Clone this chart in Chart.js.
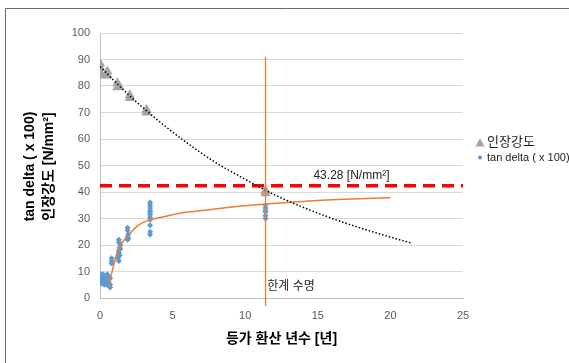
<!DOCTYPE html>
<html>
<head>
  <meta charset="utf-8">
  <title>인장강도 / tan delta</title>
  <script src="https://cdn.jsdelivr.net/npm/chart.js"></script>
  <style>
    body { margin: 0; background: #fff; }
    #chartContainer { width: 569px; height: 363px; }
  </style>
</head>
<body>
  <div id="chartContainer">
    <canvas id="myChart" width="569" height="363"></canvas>
  </div>

  <script>
    // 인장강도 측정값 [N/mm2]
    const strengthX = [0, 0, 0, 0.05, 0.5, 0.5, 1.2, 1.2, 1.3, 2.05, 2.05, 3.2, 3.2, 11.4, 11.4];
    const strengthY = [88.5, 87, 85, 84, 85.5, 84, 81, 79.5, 80, 76.5, 75.5, 71, 70, 40.5, 39.5];

    // tan delta ( x 100) 측정값
    const tanX = [0, 0, 0, 0, 0, 0, 0.1, 0.1, 0.1, 0.2, 0.2, 0.2, 0.3, 0.3, 0.3, 0.4, 0.4, 0.5, 0.5, 0.5,
                  0.6, 0.6, 0.6, 0.7, 0.7, 0.7,
                  0.8, 0.8, 0.8,
                  1.3, 1.3, 1.35, 1.3, 1.3, 1.35, 1.25, 1.3, 1.4, 1.4,
                  1.9, 1.9, 1.95, 1.9, 1.95, 1.9,
                  3.45, 3.45, 3.45, 3.45, 3.45, 3.45, 3.45, 3.45, 3.45, 3.45, 3.45,
                  11.4, 11.4, 11.4, 11.4, 11.4, 11.4];
    const tanY = [9, 8, 7.5, 7, 6.5, 6, 8.5, 7, 5.5, 9, 7.5, 6, 8, 6.5, 5, 7, 5.5, 9, 6.5, 5,
                  8, 6, 4.5, 7.5, 5, 4,
                  15, 14, 13,
                  22, 21, 19, 18, 17, 16, 15, 14, 20, 18.5,
                  26.5, 25.5, 24, 23, 22.5, 22,
                  36, 35, 34, 33, 32.5, 31.5, 30.5, 29.5, 27.5, 25, 24,
                  35, 34, 33, 32.5, 31, 30];

    // 추세선
    const strengthTrendX = [0, 2, 4, 6, 8, 10, 12, 14, 16, 18, 20, 21.4];
    const strengthTrendY = [87.3, 76.5, 67, 58.5, 51, 44.8, 39, 34.2, 30, 26.3, 23, 20.8];
    const tanTrendX = [0.57, 0.8, 1.2, 1.5, 2, 2.65, 3.35, 4.15, 5.5, 7.5, 9.7, 11.5, 15, 20];
    const tanTrendY = [4.3, 9.3, 17.5, 20.6, 24, 27.5, 29.4, 30.4, 32, 33.3, 34.7, 35.5, 36.8, 37.9];

    // 기준선 43.28 / 한계 수명
    const refX = [0, 25];
    const refY = [42.4, 42.4];
    const limitX = [11.4, 11.4];
    const limitY = [91, -3];

    const xMin = 0, xMax = 25, xStep = 5;
    const yMin = 0, yMax = 100, yStep = 10;

    const toXY = (xs, ys) => xs.map((x, i) => ({ x: x, y: ys[i] }));

    const FONT = '"Liberation Sans", "Noto Sans CJK KR", sans-serif';

    // 바깥 테두리
    const framePlugin = {
      id: 'frame',
      beforeDraw(chart) {
        const c = chart.ctx;
        c.save();
        c.fillStyle = '#fff';
        c.fillRect(0, 0, chart.width, chart.height);
        c.strokeStyle = '#666';
        c.lineWidth = 1;
        c.beginPath();
        c.moveTo(5.5, chart.height);
        c.lineTo(5.5, 8.5);
        c.lineTo(chart.width, 8.5);
        c.stroke();
        c.restore();
      }
    };

    // 축 제목, 범례, 라벨
    const textPlugin = {
      id: 'texts',
      afterDraw(chart) {
        const c = chart.ctx;
        const area = chart.chartArea;
        const xs = chart.scales.x, ys = chart.scales.y;
        c.save();
        c.fillStyle = '#000';
        c.textAlign = 'center';
        c.textBaseline = 'middle';

        // y축 제목
        const cy = (area.top + area.bottom) / 2 + 1;
        c.font = 'bold 14px ' + FONT;
        c.save();
        c.translate(30, cy);
        c.rotate(-Math.PI / 2);
        c.fillText('tan delta ( x 100)', 0, 0);
        c.restore();
        c.save();
        c.translate(49, cy);
        c.rotate(-Math.PI / 2);
        c.fillText('인장강도 [N/mm²]', 0, 0);
        c.restore();

        // x축 제목
        c.font = 'bold 14px ' + FONT;
        c.fillText('등가 환산 년수 [년]', (area.left + area.right) / 2, 339);

        // 기준값 라벨
        c.font = '12px ' + FONT;
        c.textAlign = 'left';
        c.fillStyle = '#222';
        c.fillText('43.28 [N/mm²]', xs.getPixelForValue(14.7), ys.getPixelForValue(46.3));
        c.fillText('한계 수명', xs.getPixelForValue(11.45) + 1, ys.getPixelForValue(4.4));

        // 범례
        c.fillStyle = '#a5a5a5';
        c.beginPath();
        c.moveTo(480, 138); c.lineTo(484.5, 146.5); c.lineTo(475.5, 146.5);
        c.closePath();
        c.fill();
        c.fillStyle = '#5b9bd5';
        c.beginPath();
        c.moveTo(480, 155); c.lineTo(482.5, 157.5); c.lineTo(480, 160); c.lineTo(477.5, 157.5);
        c.closePath();
        c.fill();
        c.fillStyle = '#222';
        c.font = '13px ' + FONT;
        c.fillText('인장강도', 487, 142);
        c.font = '11px ' + FONT;
        c.fillText('tan delta ( x 100)', 487, 158);
        c.restore();
      }
    };

    const ctx = document.getElementById('myChart').getContext('2d');
    const myChart = new Chart(ctx, {
      type: 'scatter',
      data: {
        datasets: [{
          label: '인장강도',
          data: toXY(strengthX, strengthY),
          pointStyle: 'triangle',
          pointRadius: 6,
          backgroundColor: '#a5a5a5',
          borderColor: '#a5a5a5',
          pointBorderWidth: 0,
          order: 4
        }, {
          label: 'tan delta ( x 100)',
          data: toXY(tanX, tanY),
          pointStyle: 'rectRot',
          pointRadius: 3,
          backgroundColor: '#5b9bd5',
          borderColor: '#5b9bd5',
          pointBorderWidth: 0,
          order: 5
        }, {
          label: 'strength trend',
          data: toXY(strengthTrendX, strengthTrendY),
          showLine: true,
          pointRadius: 0,
          borderColor: '#000',
          borderWidth: 1.5,
          borderDash: [1.5, 2],
          tension: 0.4,
          cubicInterpolationMode: 'monotone',
          order: 1
        }, {
          label: 'tan trend',
          data: toXY(tanTrendX, tanTrendY),
          showLine: true,
          pointRadius: 0,
          borderColor: '#ed7d31',
          borderWidth: 1.5,
          cubicInterpolationMode: 'monotone',
          order: 3
        }, {
          label: 'ref',
          data: toXY(refX, refY),
          showLine: true,
          pointRadius: 0,
          borderColor: '#ff0000',
          borderWidth: 3.5,
          borderDash: [12, 7],
          order: 2
        }, {
          label: 'limit',
          data: toXY(limitX, limitY),
          showLine: true,
          pointRadius: 0,
          borderColor: '#ed7d31',
          borderWidth: 1.3,
          clip: false,
          order: 0
        }]
      },
      options: {
        responsive: false,
        animation: false,
        layout: { padding: { left: 0, right: 106, top: 33, bottom: 0 } },
        plugins: {
          legend: { display: false },
          tooltip: { enabled: false }
        },
        scales: {
          x: {
            type: 'linear',
            min: xMin,
            max: xMax,
            ticks: { stepSize: xStep, padding: 11, color: '#595959', font: { size: 11, family: FONT } },
            grid: { display: false, drawTicks: false },
            border: { display: true, color: '#bfbfbf' },
            afterFit(scale) { scale.height = 65; }
          },
          y: {
            min: yMin,
            max: yMax,
            ticks: { stepSize: yStep, padding: 10, color: '#595959', font: { size: 11, family: FONT } },
            grid: { color: '#d9d9d9', drawTicks: false },
            border: { display: true, color: '#bfbfbf' },
            afterFit(scale) { scale.width = 100; }
          }
        }
      },
      plugins: [framePlugin, textPlugin]
    });
  </script>
</body>
</html>
